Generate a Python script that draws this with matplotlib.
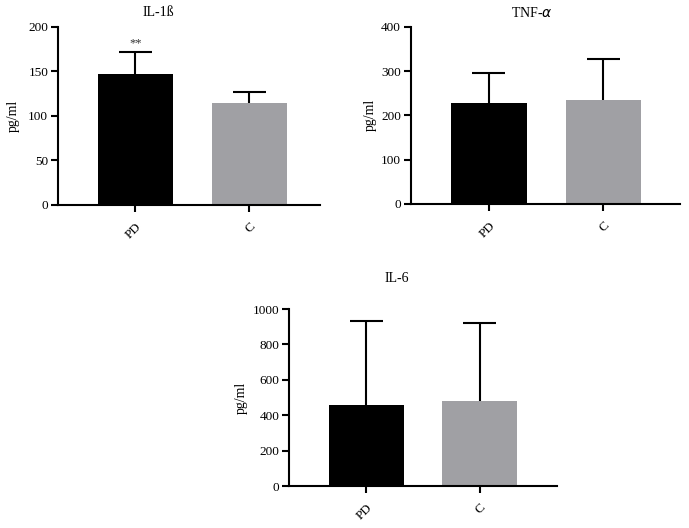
import matplotlib
matplotlib.use("Agg")
import matplotlib.pyplot as plt

plt.rcParams['font.family'] = ['Liberation Serif', 'DejaVu Serif']

categories = ["PD", "C"]
il1b_mean = [147.5, 114.3]
il1b_err = [24.1, 13.0]
tnf_mean = [228.5, 235.3]
tnf_err = [66.3, 91.1]
il6_mean = [457, 481]
il6_err = [477, 440]
colors = ["#000000", "#a0a0a4"]

W, H = 689, 528
fig = plt.figure(figsize=(W / 100, H / 100), dpi=100)


def px_axes(left, right, bottom, top):
    return fig.add_axes([left / W, 1 - bottom / H, (right - left) / W, (bottom - top) / H])


def draw(ax, means, errs, ymax, step, xr):
    x = list(range(len(categories)))
    tops = [m + e for m, e in zip(means, errs)]
    ax.vlines(x, means, tops, color='black', linewidth=1.5, zorder=1)
    ax.hlines(tops, [xi - 0.145 for xi in x], [xi + 0.145 for xi in x],
              color='black', linewidth=1.5, zorder=1)
    ax.bar(x, means, width=0.66, color=colors, zorder=2)
    ax.set_ylim(0, ymax)
    ax.set_xlim(-0.68, xr)
    ax.set_yticks(range(0, ymax + 1, step))
    ax.set_xticks(x)
    ax.set_xticklabels(categories, rotation=45, ha='right', rotation_mode='anchor')
    for s in ['top', 'right']:
        ax.spines[s].set_visible(False)
    for s in ['left', 'bottom']:
        ax.spines[s].set_linewidth(1.5)
    ax.tick_params(axis='both', direction='out', length=5, width=1.5, labelsize=9.5, pad=2)
    ax.tick_params(axis='x', pad=6)
    ax.set_ylabel("pg/ml", fontsize=10)


ax1 = px_axes(58, 320, 205, 27)
draw(ax1, il1b_mean, il1b_err, 200, 50, 1.62)
ax1.text(0, il1b_mean[0] + il1b_err[0] + 3, "**", ha='center', va='bottom', fontsize=9,
         color='#333333')
ax1.yaxis.set_label_coords(-0.145, 0.5)

ax2 = px_axes(410.7, 680, 204, 26.7)
draw(ax2, tnf_mean, tnf_err, 400, 100, 1.668)
ax2.yaxis.set_label_coords(-0.125, 0.5)

ax3 = px_axes(289.3, 557, 486.3, 309)
draw(ax3, il6_mean, il6_err, 1000, 200, 1.68)
ax3.yaxis.set_label_coords(-0.154, 0.5)

fig.text(158 / W, 1 - 13 / H, "IL-1ß", ha='center', va='center', fontsize=10)
fig.text(532 / W, 1 - 13 / H, "TNF-$\\alpha$", ha='center', va='center', fontsize=10)
fig.text(397 / W, 1 - 278 / H, "IL-6", ha='center', va='center', fontsize=10)

fig.savefig("out.png", dpi=100)
